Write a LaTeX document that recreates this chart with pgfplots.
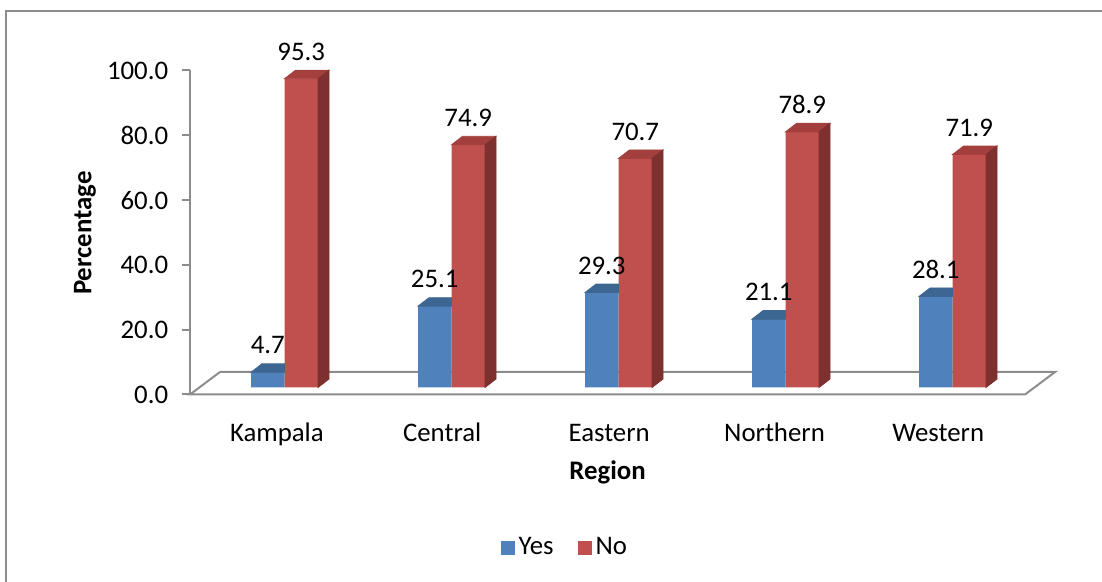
\documentclass[border=0pt]{standalone}
\usepackage{fontspec}
\setmainfont{Carlito}
\usepackage{pgfplots}
\usepackage{pgfplotstable}
\pgfplotsset{compat=1.18}

\definecolor{yesfront}{HTML}{4F81BD}
\definecolor{yestop}{HTML}{3D6693}
\definecolor{nofront}{HTML}{C0504D}
\definecolor{notop}{HTML}{A3403D}
\definecolor{noside}{HTML}{7E302F}
\definecolor{framegray}{HTML}{8C8C8C}

\pgfdeclareplotmark{blank}{}
\pgfplotsset{sqlegend/.style={legend image code/.code={\fill[##1] (0pt,-3.5pt) rectangle (7pt,3.5pt);}}}
\newcommand\vallabel[1]{\pgfmathprintnumber[fixed,fixed zerofill,precision=1,assume math mode=true]{#1}}

% region, yes, no (percent)
\pgfplotstableread{
x yes no
0 4.7 95.3
1 25.1 74.9
2 29.3 70.7
3 21.1 78.9
4 28.1 71.9
}\regiondata

\begin{document}
\begin{tikzpicture}[font=\fontsize{13.4}{16}\selectfont]
\useasboundingbox (-95pt,-93.75pt) rectangle (456pt,197.25pt);
\draw[framegray, line width=1pt] (-92.15pt,-100pt) -- (-92.15pt,191.75pt) -- (460pt,191.75pt);

% axes, ticks, floor
\begin{axis}[
  at={(0pt,0pt)}, anchor=south west,
  scale only axis, x=83.5pt, y=1.62pt,
  xmin=-0.5, xmax=4.5, ymin=0, ymax=100,
  clip=false,
  axis lines*=left, separate axis lines,
  x axis line style={draw=none},
  y axis line style={framegray, line width=1pt},
  xtick={0.02,1.01,2.01,3.0,3.98},
  xticklabels={Kampala,Central,Eastern,Northern,Western},
  xtick style={draw=none},
  ytick={0,20,...,100},
  ytick style={framegray, line width=1pt},
  tick align=outside, major tick length=4pt,
  /pgf/number format/assume math mode=true,
  yticklabel style={/pgf/number format/fixed, /pgf/number format/fixed zerofill,
    /pgf/number format/precision=1, xshift=-3.4pt},
  xticklabel style={yshift=-6pt, text height=10pt, text depth=3pt},
  xlabel={\bfseries Region},
  ylabel={\bfseries Percentage},
  xlabel style={at={(axis description cs:0.5,-0.24)}, anchor=center},
  ylabel style={at={(axis description cs:-0.1257,0.498)}, anchor=center},
]
\draw[framegray, line width=1pt] (rel axis cs:0,0) -- (rel axis cs:1,0)
  -- ++(15pt,11.25pt) -- ([shift={(15pt,11.25pt)}]rel axis cs:0,0) -- cycle;
\end{axis}

% bars
\begin{axis}[
  at={(5.5pt,3.5pt)}, anchor=south west,
  scale only axis, x=83.5pt, y=1.62pt,
  xmin=-0.5, xmax=4.5, ymin=0, ymax=100,
  hide axis, clip=false,
  bar width=16.75pt,
  legend style={at={(0.437,-0.495)}, anchor=center, draw=none, fill=none,
    legend columns=2, inner sep=0pt,
    /tikz/every even column/.append style={column sep=10pt}},
]
\addplot[ybar, bar shift=-8.375pt, fill=yesfront, draw=none, sqlegend]
  table[x=x, y=yes] {\regiondata};
\addlegendentry{Yes}
\addplot[ybar, bar shift=8.375pt, fill=nofront, draw=none, sqlegend]
  table[x=x, y=no] {\regiondata};
\addlegendentry{No}

% 3D top of the yes bars, with the value
\addplot[only marks, mark=blank, scatter, forget plot,
  visualization depends on={rawy \as \barval},
  scatter/@pre marker code/.code={%
    \fill[yestop] (-16.75pt,0pt) -- (0pt,0pt) -- (0pt,4.25pt) -- (-11.25pt,4.25pt) -- cycle;
    \node[anchor=center] at (-8.375pt,13.5pt) {\vallabel{\barval}};},
  scatter/@post marker code/.code={}]
  table[x=x, y=yes] {\regiondata};
% 3D top and side of the no bars, with the value
\addplot[only marks, mark=blank, scatter, forget plot,
  visualization depends on={rawy \as \barval},
  scatter/@pre marker code/.code={%
    \fill[notop] (0pt,0pt) -- (16.75pt,0pt) -- (22.25pt,4.25pt) -- (5.5pt,4.25pt) -- cycle;
    \fill[noside] (16.75pt,0pt) -- (22.25pt,4.25pt) -- (22.25pt,4.25pt-\barval*1.62pt)
      -- (16.75pt,-\barval*1.62pt) -- cycle;
    \node[anchor=center] at (8.375pt,13.5pt) {\vallabel{\barval}};},
  scatter/@post marker code/.code={}]
  table[x=x, y=no] {\regiondata};
\end{axis}
\end{tikzpicture}
\end{document}
